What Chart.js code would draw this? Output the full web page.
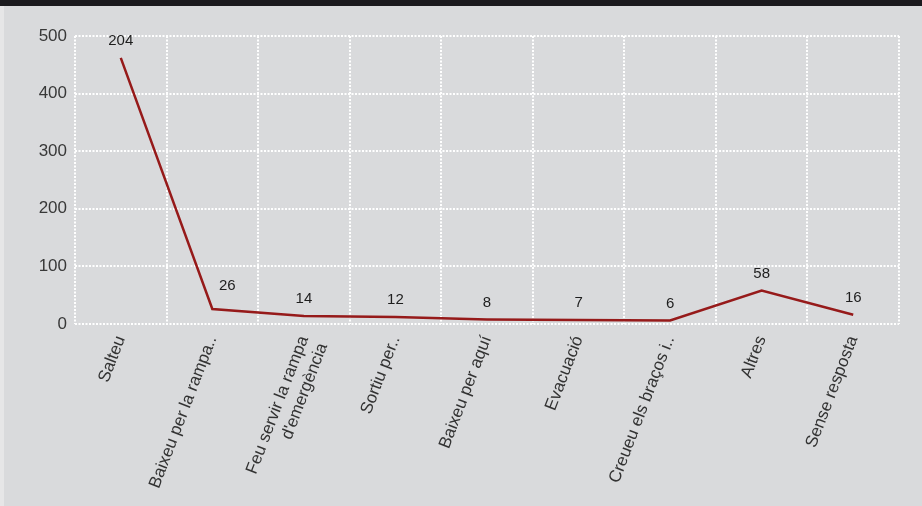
<!DOCTYPE html>
<html>
<head>
<meta charset="utf-8">
<script src="https://cdn.jsdelivr.net/npm/chart.js@4.4.1/dist/chart.umd.min.js"></script>
<style>
  html, body { margin: 0; padding: 0; background: #e6e6e7; }
  #wrap { position: absolute; left: 0; top: 0; width: 922px; height: 506px; }
</style>
</head>
<body>
<div id="wrap"><canvas id="c" width="922" height="506"></canvas></div>
<script>
const categories = [
  "Salteu",
  "Baixeu per la rampa..",
  ["Feu servir la rampa", "d'emergència"],
  "Sortiu per..",
  "Baixeu per aquí",
  "Evacuació",
  "Creueu els braços i..",
  "Altres",
  "Sense resposta"
];
const lineValues = [462, 26, 14, 12, 8, 7, 6, 58, 16];
const pointLabels = [204, 26, 14, 12, 8, 7, 6, 58, 16];
const yTicks = [0, 100, 200, 300, 400, 500];

const FONT = "'Liberation Sans', Arial, sans-serif";

const backgroundPlugin = {
  id: 'bg',
  beforeDraw(chart) {
    const ctx = chart.ctx;
    ctx.save();
    ctx.fillStyle = '#e6e6e7';
    ctx.fillRect(0, 0, chart.width, chart.height);
    ctx.fillStyle = '#d9dadc';
    ctx.fillRect(4, 6, chart.width - 4, chart.height - 6);
    ctx.fillStyle = '#1b1a1e';
    ctx.fillRect(0, 0, chart.width, 6);
    ctx.restore();
  }
};

const labelPlugin = {
  id: 'pointLabels',
  afterDatasetsDraw(chart) {
    const ctx = chart.ctx;
    const meta = chart.getDatasetMeta(0);
    ctx.save();
    ctx.font = '15px ' + FONT;
    ctx.fillStyle = '#1e1e1e';
    ctx.textAlign = 'center';
    ctx.textBaseline = 'middle';
    meta.data.forEach((pt, i) => {
      let x = pt.x, y = pt.y - 17;
      const prev = meta.data[i - 1];
      if (prev && pt.y - prev.y > 60) { x += 15; y -= 6; }
      ctx.fillText(String(pointLabels[i]), x, y);
    });
    ctx.restore();
  }
};

new Chart(document.getElementById('c'), {
  type: 'line',
  data: {
    labels: categories,
    datasets: [{
      data: lineValues,
      borderColor: '#961a1a',
      borderWidth: 2.5,
      pointRadius: 0,
      pointHoverRadius: 0,
      tension: 0,
      fill: false
    }]
  },
  options: {
    responsive: false,
    animation: false,
    events: [],
    layout: { padding: { left: 0, top: 36, right: 23, bottom: 0 } },
    plugins: { legend: { display: false }, tooltip: { enabled: false } },
    scales: {
      x: {
        offset: true,
        grid: {
          offset: true,
          color: '#ffffff',
          lineWidth: 2,
          drawTicks: false
        },
        border: { display: false, dash: [2, 1.5] },
        ticks: {
          autoSkip: false,
          maxRotation: 69,
          minRotation: 69,
          padding: 9,
          color: '#333333',
          font: { family: FONT, size: 17 }
        },
        afterFit(scale) { scale.height = 182; }
      },
      y: {
        min: 0,
        max: 500,
        afterBuildTicks(scale) { scale.ticks = yTicks.map(v => ({ value: v })); },
        grid: {
          color: '#ffffff',
          lineWidth: 2,
          drawTicks: false
        },
        border: { display: false, dash: [2, 1.5] },
        ticks: {
          padding: 8,
          color: '#383838',
          font: { family: FONT, size: 17 }
        },
        afterFit(scale) { scale.width = 75; }
      }
    }
  },
  plugins: [backgroundPlugin, labelPlugin]
});
</script>
</body>
</html>
